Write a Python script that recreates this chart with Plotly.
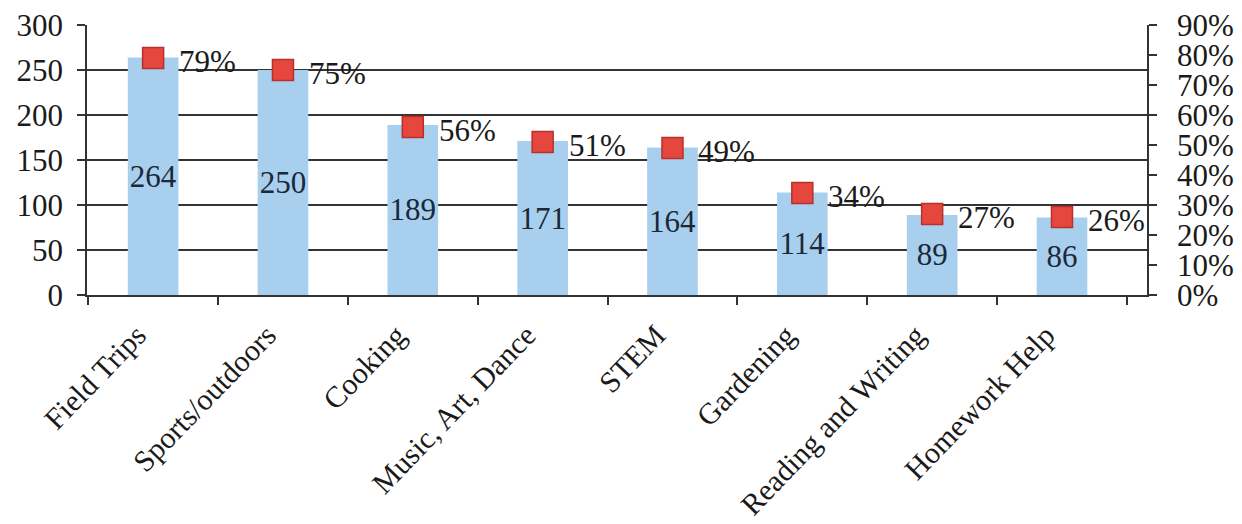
import plotly.graph_objects as go

categories = ["Field Trips", "Sports/outdoors", "Cooking", "Music, Art, Dance",
              "STEM", "Gardening", "Reading and Writing", "Homework Help"]
counts = [264, 250, 189, 171, 164, 114, 89, 86]
percents = [0.79, 0.75, 0.56, 0.51, 0.49, 0.34, 0.27, 0.26]
pct_labels = [f"{round(p*100)}%" for p in percents]

FONT = "Liberation Serif"

fig = go.Figure()
fig.add_bar(
    x=categories, y=counts, text=[str(c) for c in counts],
    textposition="inside", insidetextanchor="middle", textangle=0,
    marker=dict(color="#A8CFEE", line=dict(width=0)),
    width=0.39,
    textfont=dict(size=31, color="#1B2838", family=FONT),
    yaxis="y", hoverinfo="skip",
)
fig.add_scatter(
    x=categories, y=percents, mode="markers",
    marker=dict(symbol="square", size=21, color="#E5473F",
                line=dict(color="#B8302A", width=1.5)),
    yaxis="y2", cliponaxis=False,
)
for c, p, lab in zip(categories, percents, pct_labels):
    fig.add_annotation(x=c, y=p, xref="x", yref="y2", text=lab, showarrow=False,
                       xanchor="left", yanchor="middle", xshift=24, yshift=-3,
                       font=dict(size=31, color="#1a1a1a", family=FONT))

axis_common = dict(showline=True, linecolor="#333333", linewidth=1.5,
                   ticks="outside", ticklen=8, tickcolor="#333333", tickwidth=1.5,
                   automargin=False)

fig.update_layout(
    width=1242, height=524,
    margin=dict(l=87, r=95, t=25, b=229),
    plot_bgcolor="white", paper_bgcolor="white",
    font=dict(family=FONT, size=31, color="#1a1a1a"),
    showlegend=False,
    uniformtext=dict(minsize=31, mode="show"),
    xaxis=dict(**axis_common, tickson="boundaries", tickangle=-46, showgrid=False,
               ticklabelshift=-16, ticklabelstandoff=9,
               tickfont=dict(size=30, family=FONT, color="#1a1a1a")),
    yaxis=dict(**axis_common, range=[0, 300], dtick=50, showgrid=True,
               gridcolor="#333333", gridwidth=1.5, zeroline=False,
               ticklabelstandoff=8),
    yaxis2=dict(**axis_common, overlaying="y", side="right", range=[0, 0.9],
                dtick=0.1, tickformat=".0%", showgrid=False, zeroline=False,
                ticklabelstandoff=14),
)

fig.write_html("out.html")
